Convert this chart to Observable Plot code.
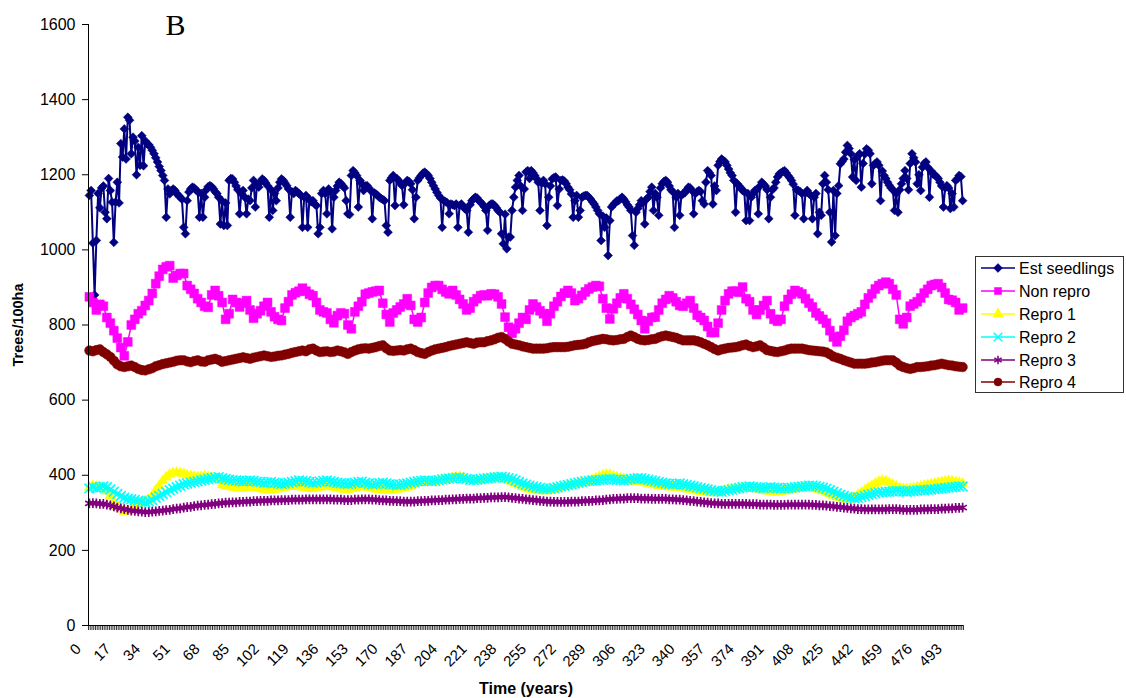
<!DOCTYPE html>
<html><head><meta charset="utf-8">
<script src="https://cdn.jsdelivr.net/npm/d3@7"></script>
<script src="https://cdn.jsdelivr.net/npm/@observablehq/plot@0.6"></script>
<style>
body{margin:0;background:#fff;font-family:"Liberation Sans",Arial,sans-serif;}
#wrap{position:relative;width:1126px;height:698px;overflow:hidden;}
#legend{position:absolute;left:975px;top:256px;}
</style></head><body><div id="wrap"></div>
<script>
// ---- tick labels ----
const xTickLabels = [0,17,34,51,68,85,102,119,136,153,170,187,204,221,238,255,272,289,306,323,340,357,374,391,408,425,442,459,476,493];
const yTicks = [0,200,400,600,800,1000,1200,1400,1600];
const seriesNames = ["Est seedlings","Non repro","Repro 1","Repro 2","Repro 3","Repro 4"];

// ---- Est seedlings: one value per year, t = 0..500 ----
const estSeedlings = [
1145,1158,1018,880,1025,1150,1112,1165,1170,1100,
1083,1190,1158,1127,1020,1127,1180,1125,1283,1247,
1322,1242,1353,1345,1256,1300,1290,1200,1273,1225,
1304,1224,1290,1283,1280,1273,1265,1256,1245,1234,
1222,1211,1198,1185,1087,1162,1149,1158,1162,1158,
1150,1145,1140,1135,1060,1043,1131,1154,1162,1167,
1165,1160,1155,1087,1150,1087,1140,1160,1168,1171,
1168,1163,1155,1150,1140,1069,1130,1065,1125,1065,
1185,1190,1189,1180,1170,1160,1096,1150,1158,1140,
1096,1135,1131,1165,1185,1114,1175,1167,1180,1189,
1185,1178,1171,1087,1160,1105,1150,1131,1165,1180,
1189,1185,1178,1171,1162,1087,1154,1150,1158,1154,
1150,1145,1060,1140,1145,1060,1135,1128,1131,1122,
1118,1043,1060,1150,1158,1150,1096,1162,1155,1056,
1140,1158,1170,1180,1177,1171,1165,1131,1096,1094,
1198,1211,1205,1198,1114,1185,1176,1158,1170,1171,
1165,1158,1083,1152,1149,1145,1140,1137,1134,1131,
1065,1047,1185,1192,1198,1118,1190,1185,1178,1171,
1120,1178,1185,1182,1176,1160,1083,1140,1185,1192,
1198,1204,1207,1203,1198,1190,1180,1171,1162,1153,
1145,1138,1060,1131,1128,1125,1096,1122,1120,1118,
1122,1060,1118,1122,1115,1110,1105,1047,1120,1131,
1136,1140,1138,1131,1127,1122,1115,1105,1052,1118,
1122,1122,1118,1112,1105,1100,1043,1016,1095,1003,
1034,1034,1105,1140,1167,1185,1198,1170,1105,1162,
1207,1211,1190,1211,1205,1198,1190,1180,1105,1178,
1185,1176,1065,1140,1170,1189,1192,1194,1118,1162,
1185,1186,1183,1176,1167,1160,1149,1087,1131,1145,
1087,1105,1140,1143,1145,1145,1140,1135,1128,1122,
1114,1105,1096,1025,1090,1060,1085,985,1078,1114,
1120,1125,1130,1131,1136,1140,1135,1128,1120,1114,
1105,1038,1012,1100,1110,1120,1131,1125,1069,1135,
1140,1155,1167,1105,1150,1140,1092,1165,1176,1182,
1185,1180,1170,1160,1155,1060,1140,1150,1092,1145,
1150,1152,1160,1167,1165,1158,1096,1150,1155,1158,
1155,1131,1122,1180,1211,1205,1198,1122,1170,1158,
1225,1235,1242,1238,1234,1225,1215,1205,1198,1185,
1100,1176,1170,1165,1158,1155,1078,1150,1078,1140,
1150,1158,1160,1096,1170,1180,1175,1170,1160,1083,
1140,1160,1165,1180,1194,1202,1205,1208,1211,1205,
1198,1192,1185,1175,1092,1160,1158,1155,1150,1083,
1152,1158,1150,1145,1083,1140,1150,1043,1100,1092,
1176,1198,1180,1160,1100,1021,1158,1038,1150,1171,
1229,1235,1242,1260,1278,1270,1256,1194,1240,1185,
1250,1256,1167,1230,1255,1269,1265,1256,1176,1225,
1230,1234,1225,1131,1210,1198,1190,1180,1172,1165,
1160,1105,1150,1100,1160,1176,1190,1211,1190,1160,
1230,1256,1245,1234,1176,1200,1158,1220,1230,1234,
1220,1140,1210,1202,1200,1195,1190,1180,1170,1114,
1165,1171,1165,1110,1150,1114,1185,1189,1198,1195,
1131];

// ---- the other series: one value every 2 years, t = 0,2,..,500 ----
const nonRepro = [
875,860,840,855,850,820,805,785,765,740,
718,755,800,815,830,838,852,865,884,910,
930,948,955,958,925,932,937,937,905,895,
884,870,860,850,847,880,892,878,860,815,
830,868,860,848,858,865,840,818,830,838,
850,860,835,822,815,812,845,862,880,886,
890,898,890,882,878,860,840,835,832,815,
806,825,832,830,800,790,835,850,862,882,
885,888,890,892,858,828,808,832,840,848,
856,870,852,815,808,820,860,885,900,905,
905,895,888,883,892,880,868,856,840,845,
862,870,878,880,878,883,882,875,856,821,
794,778,790,805,820,815,840,856,848,838,
830,810,830,850,862,876,885,892,885,865,
870,879,888,896,901,905,903,870,845,816,
843,858,872,883,870,855,842,828,812,790,
810,820,821,840,858,868,878,872,862,852,
850,858,865,845,826,820,812,796,780,780,
805,840,865,883,890,890,887,901,870,862,
840,828,840,852,865,830,815,810,815,850,
868,882,892,888,883,870,858,848,832,824,
815,805,785,768,755,770,786,810,820,825,
830,835,855,872,883,896,905,910,914,910,
895,880,815,803,820,850,856,862,872,885,
895,905,908,910,900,885,868,866,860,840,
845];

const repro1 = [
368,372,370,368,365,358,345,330,318,310,
303,305,310,316,322,328,332,335,345,360,
372,385,395,402,406,407,406,404,400,398,
396,395,396,397,396,394,392,390,375,372,
370,368,366,365,366,368,370,368,366,364,
362,361,360,362,364,366,368,370,372,371,
370,368,366,365,364,366,368,370,372,370,
368,366,364,362,362,364,366,368,370,369,
367,365,363,362,361,360,360,361,362,364,
366,368,372,376,380,382,384,383,382,383,
385,387,389,391,393,395,396,393,390,388,
386,385,386,388,390,391,392,393,392,390,
387,383,378,374,370,366,363,361,360,359,
358,358,360,362,365,368,370,372,374,376,
378,380,382,385,388,392,396,400,402,401,
398,395,392,390,388,386,384,383,382,380,
378,376,374,372,371,370,369,368,368,368,
366,364,362,360,358,356,355,354,353,354,
356,358,360,362,363,364,365,366,367,368,
366,364,362,360,358,356,355,355,356,358,
360,362,364,366,367,368,367,366,364,362,
358,354,350,346,342,339,337,336,338,342,
348,354,360,366,372,378,383,386,384,380,
375,370,366,364,363,364,366,368,370,372,
374,376,378,380,382,384,385,384,382,380,
378];

const repro2 = [
365,368,366,368,370,368,362,356,350,345,
340,337,336,334,332,330,328,330,334,340,
345,350,355,360,364,368,372,376,378,380,
382,384,386,388,390,392,394,395,392,390,
388,387,386,385,384,385,386,385,383,382,
380,381,382,380,378,377,378,380,382,384,
386,385,384,382,380,381,383,385,386,384,
382,380,379,378,377,378,380,382,383,380,
378,376,377,379,380,378,376,375,374,375,
377,378,380,382,384,385,386,385,384,385,
387,389,390,391,392,393,394,392,390,388,
387,388,390,391,392,393,394,395,396,394,
392,390,386,382,378,375,372,370,368,366,
364,363,364,366,368,370,372,374,376,378,
380,382,384,385,386,386,387,388,389,390,
389,388,387,386,388,390,391,392,392,390,
388,386,384,382,380,378,377,376,377,378,
376,374,372,370,368,366,364,362,360,358,
357,356,358,360,362,364,366,368,369,370,
369,368,367,366,367,368,367,366,365,365,
366,367,368,369,370,371,372,372,371,369,
367,364,360,356,352,348,345,342,340,339,
340,342,345,348,350,352,354,355,356,356,
357,358,358,357,356,357,358,359,360,360,
361,362,363,364,365,366,367,368,369,370,
370];

const repro3 = [
325,326,325,324,324,322,320,317,314,312,
310,308,306,305,304,303,302,302,303,304,
305,306,307,308,310,311,312,314,315,316,
318,319,320,321,322,323,324,325,326,327,
327,328,328,329,329,330,330,331,331,332,
332,332,333,333,333,334,334,334,335,335,
335,335,336,336,336,336,336,336,336,336,
335,335,335,334,334,334,335,335,336,336,
336,335,335,334,333,333,332,332,331,331,
330,330,330,330,331,331,332,332,333,333,
334,334,335,335,336,336,337,337,338,338,
338,339,339,340,340,341,341,341,342,342,
341,340,339,338,337,336,335,334,333,332,
331,330,330,329,329,329,329,329,330,330,
330,331,331,332,332,333,333,334,335,336,
337,337,338,338,339,339,339,339,338,338,
338,337,337,337,337,337,336,336,335,335,
334,333,332,331,330,329,328,327,326,325,
325,324,324,324,324,324,324,324,324,323,
323,323,322,322,322,322,321,321,321,321,
322,322,322,322,322,322,322,321,321,320,
320,319,318,317,316,315,314,313,312,311,
310,310,309,309,309,309,309,309,309,310,
310,310,309,308,308,308,308,308,309,309,
309,310,310,310,311,311,312,312,313,313,
314];

const repro4 = [
732,730,733,735,728,722,715,705,695,690,
688,690,692,688,683,680,679,682,685,690,
693,696,698,700,702,705,706,706,703,701,
704,706,703,702,706,708,710,707,702,704,
706,708,710,712,714,712,710,713,715,717,
719,717,715,716,718,719,721,723,726,728,
730,732,730,735,737,732,728,729,730,728,
729,732,730,727,723,728,732,735,737,738,
737,739,741,744,746,738,732,731,732,733,
732,735,737,733,728,725,723,728,732,735,
737,739,741,744,746,748,750,752,754,752,
750,753,754,754,757,759,762,766,768,763,
756,750,748,746,743,741,739,737,737,737,
737,738,740,741,741,741,741,742,744,746,
747,748,750,754,757,759,761,763,762,760,
759,760,762,763,768,772,768,763,760,759,
760,762,763,767,770,772,770,768,766,762,
759,759,759,759,757,754,750,746,741,736,
732,735,737,739,740,741,743,746,748,744,
741,743,746,740,733,731,729,728,730,732,
735,737,737,737,737,735,733,732,731,730,
729,727,722,716,713,710,706,703,700,697,
697,697,697,698,700,701,703,705,706,706,
706,700,692,688,685,683,685,688,688,689,
690,692,693,695,697,695,693,692,690,689,
688];

// ---- styling per series ----
const styles = [
  {values: estSeedlings, step: 1, color: "#000080", symbol: "diamond2", r: 4.0, filled: true, lw: 2},
  {values: nonRepro,     step: 2, color: "#FF00FF", symbol: "square",   r: 5.0, filled: true, lw: 1.5},
  {values: repro1,       step: 2, color: "#FFFF00", symbol: "triangle", r: 3.9, filled: true, lw: 1.5},
  {values: repro2,       step: 2, color: "#00FFFF", symbol: "times",    r: 4.5, filled: false, lw: 1.5},
  {values: repro3,       step: 2, color: "#800080", symbol: "asterisk", r: 4.6, filled: false, lw: 1.5},
  {values: repro4,       step: 2, color: "#800000", symbol: "circle",   r: 4.8, filled: true, lw: 1.5}
];

const xDomain = [-0.5, 500.5];
const yDomain = [0, 1600];
const xMinor = d3.range(xDomain[0], xDomain[1] + 0.01, 1);

const marks = [];
styles.forEach((s, k) => {
  const data = s.values.map((v, i) => ({t: i * s.step, v, name: seriesNames[k]}));
  marks.push(Plot.line(data, {x: "t", y: "v", stroke: s.color, strokeWidth: s.lw}));
  marks.push(Plot.dot(data, {x: "t", y: "v", symbol: s.symbol, r: s.r,
    fill: s.filled ? s.color : "none", stroke: s.color, strokeWidth: s.filled ? 0.5 : 1.7}));
});

const chart = Plot.plot({
  width: 1126, height: 698,
  marginLeft: 88, marginRight: 163, marginTop: 24, marginBottom: 73,
  style: {fontFamily: "'Liberation Sans', Arial, sans-serif", color: "#000", background: "#fff"},
  x: {domain: xDomain, axis: null},
  y: {domain: yDomain, axis: null},
  marks: [
    Plot.axisY(yTicks, {tickSize: 6, tickPadding: 7, tickFormat: d => String(d), fontSize: 16, label: null}),
    Plot.axisX(xMinor, {tickSize: 5, tickFormat: () => "", label: null, strokeWidth: 0.8}),
    Plot.text(xTickLabels, {x: d => d, frameAnchor: "bottom", dx: -11, dy: 21, rotate: -45,
      textAnchor: "end", lineAnchor: "middle", fontSize: 15}),
    Plot.text(["Trees/100ha"], {frameAnchor: "left", dx: -70, rotate: -90, fontWeight: "bold",
      fontSize: 14.5, textAnchor: "middle", lineAnchor: "middle"}),
    Plot.text(["Time (years)"], {frameAnchor: "bottom", dy: 63, fontWeight: "bold",
      fontSize: 16, textAnchor: "middle", lineAnchor: "middle"}),
    Plot.text(["B"], {frameAnchor: "top-left", dx: 87, dy: 1, fontSize: 30,
      fontFamily: "'Liberation Serif', 'Times New Roman', serif", textAnchor: "middle", lineAnchor: "middle"}),
    ...marks,
    Plot.ruleX([xDomain[0]], {stroke: "#000"}),
    Plot.ruleY([yDomain[0]], {stroke: "#000"})
  ]
});
const wrap = document.getElementById("wrap");
wrap.appendChild(chart);

// ---- legend ----
const symMap = {diamond2: d3.symbolDiamond2, square: d3.symbolSquare, triangle: d3.symbolTriangle,
  times: d3.symbolTimes, asterisk: d3.symbolAsterisk, circle: d3.symbolCircle};
const lw = 149, lh = 137, rowY = [12, 35, 58, 81, 104, 126];
const leg = d3.create("svg").attr("id", "legend").attr("width", lw).attr("height", lh)
  .style("font-family", "'Liberation Sans', Arial, sans-serif");
leg.append("rect").attr("x", 0.5).attr("y", 0.5).attr("width", lw - 1).attr("height", lh - 1)
  .attr("fill", "#fff").attr("stroke", "#333");
styles.forEach((s, k) => {
  const g = leg.append("g").attr("transform", `translate(0,${rowY[k]})`);
  g.append("line").attr("x1", 6).attr("x2", 40).attr("stroke", s.color).attr("stroke-width", 1.5);
  g.append("path").attr("transform", "translate(23,0)")
    .attr("d", d3.symbol(symMap[s.symbol], Math.PI * Math.min(s.r, 4) * Math.min(s.r, 4))())
    .attr("fill", s.filled ? s.color : "none").attr("stroke", s.color).attr("stroke-width", s.filled ? 0.5 : 1.5);
  g.append("text").attr("x", 44).attr("dy", "0.35em").attr("font-size", 16).text(seriesNames[k]);
});
wrap.appendChild(leg.node());
</script></body></html>
